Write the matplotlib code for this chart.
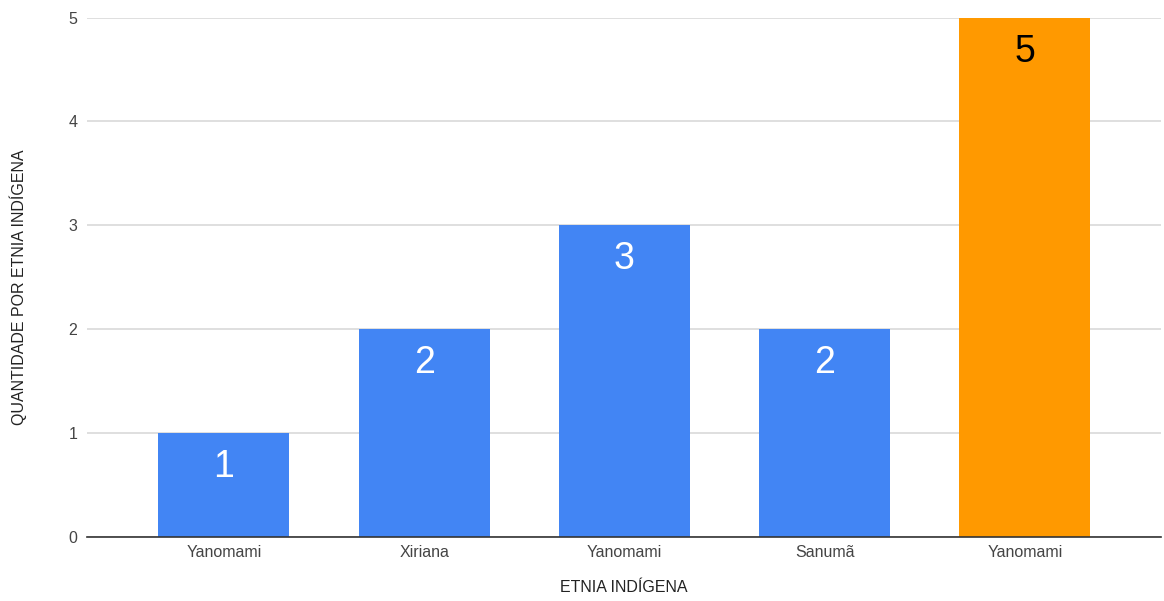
import matplotlib
matplotlib.use("Agg")
import matplotlib.pyplot as plt

categories = ["Yanomami", "Xiriana", "Yanomami", "Sanumã", "Yanomami"]
values = [1, 2, 3, 2, 5]
bar_colors = ["#4285F4", "#4285F4", "#4285F4", "#4285F4", "#FF9900"]
label_colors = ["white", "white", "white", "white", "black"]
yticks = [0, 1, 2, 3, 4, 5]

plt.rcParams['font.family'] = ['Liberation Sans', 'DejaVu Sans']

W, H = 1164, 601
fig = plt.figure(figsize=(W/100, H/100), dpi=100)
ax = fig.add_axes([87/W, 64/H, (1161-87)/W, (537-17.5)/H])

x = list(range(len(categories)))
ax.bar(x, values, width=0.654, color=bar_colors, zorder=3)

for xi, v, lc in zip(x, values, label_colors):
    ax.annotate(str(v), xy=(xi, v), xytext=(0, -34), textcoords="offset pixels",
                ha="center", va="center", fontsize=27, color=lc, zorder=4)

ax.set_xlim(-0.684, 4.68)
ax.set_ylim(0, 5)
ax.set_yticks(yticks)
ax.set_xticks(x)
ax.set_xticklabels(categories)
ax.tick_params(axis="both", length=0, labelsize=11.5, labelcolor="#444444")
ax.tick_params(axis="y", pad=7)
ax.tick_params(axis="x", pad=6)
ax.grid(axis="y", color="#d9d9d9", linewidth=1.2, zorder=0)
for s in ["top", "right", "left"]:
    ax.spines[s].set_visible(False)
ax.spines["bottom"].set_color("#333333")
ax.spines["bottom"].set_linewidth(1.2)
ax.spines["bottom"].set_zorder(5)

fig.text(624/W, 1 - 588/H, "ETNIA INDÍGENA", fontsize=11.5, color="#222222",
         ha="center", va="center")
fig.text(18/W, 1 - 287/H, "QUANTIDADE POR ETNIA INDÍGENA", fontsize=11.5, color="#222222",
         ha="center", va="center", rotation=90)

fig.savefig("out.png", dpi=100, facecolor="white")
